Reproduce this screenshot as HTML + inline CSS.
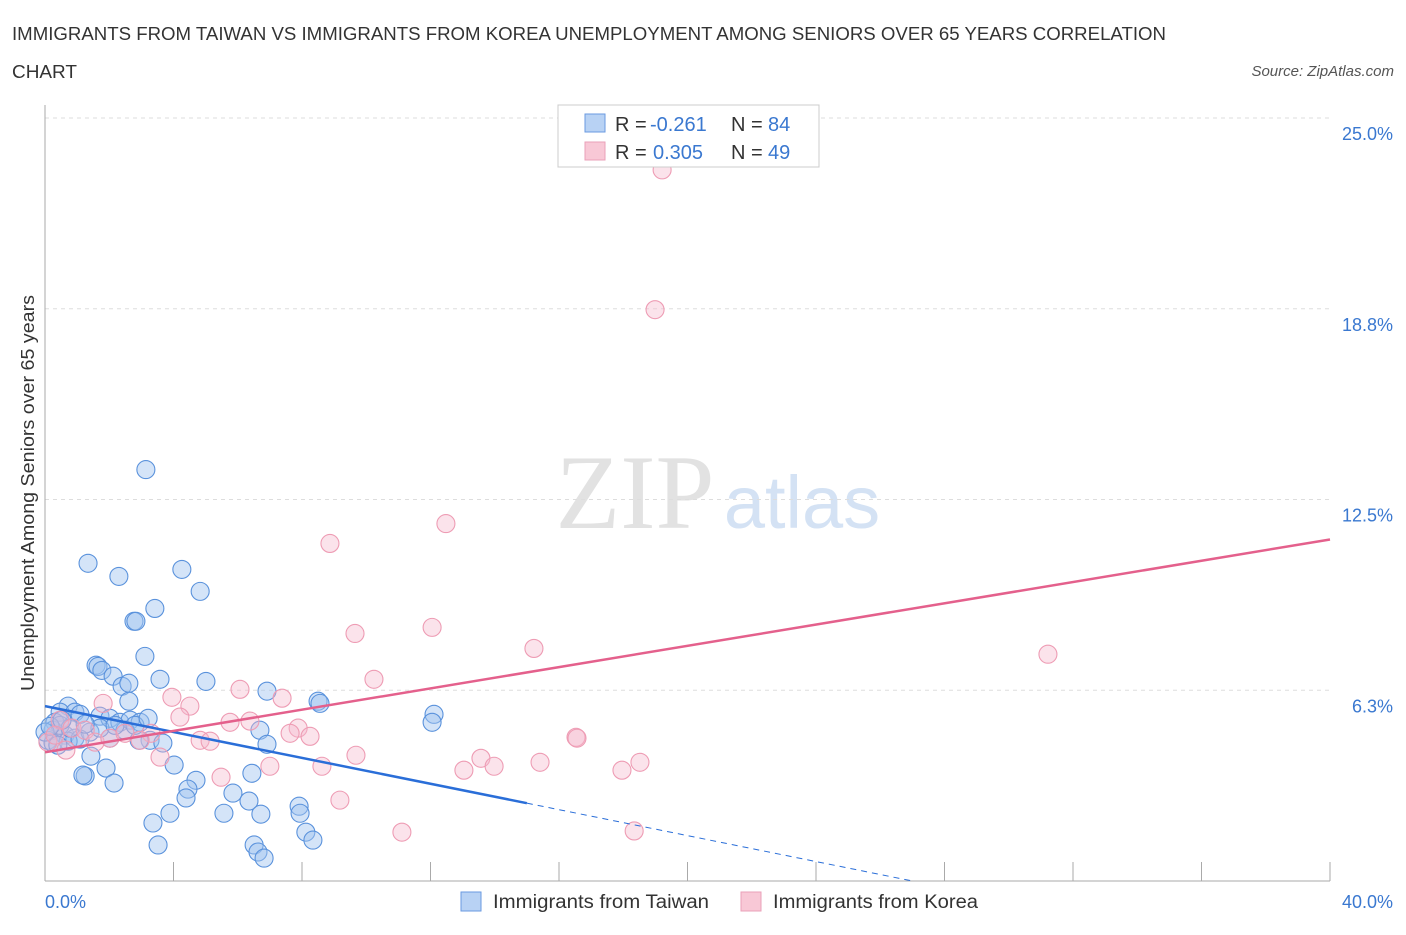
<!DOCTYPE html>
<html><head><meta charset="utf-8"><style>
body{margin:0;background:#fff;font-family:"Liberation Sans",sans-serif}
svg text{font-family:"Liberation Sans",sans-serif}
</style></head><body>
<svg id="c" width="1406" height="930">
<text x="12" y="40" font-size="18" fill="#333" textLength="1154" lengthAdjust="spacingAndGlyphs">IMMIGRANTS FROM TAIWAN VS IMMIGRANTS FROM KOREA UNEMPLOYMENT AMONG SENIORS OVER 65 YEARS CORRELATION</text>
<text x="12" y="78" font-size="18" fill="#333" textLength="65" lengthAdjust="spacingAndGlyphs">CHART</text>
<text x="1394" y="76" font-size="15" fill="#555" font-style="italic" text-anchor="end">Source: ZipAtlas.com</text>
<text x="635" y="528" font-size="106" fill="#e2e2e2" text-anchor="middle" style="font-family:'Liberation Serif',serif">ZIP</text>
<text x="802" y="528" font-size="74" fill="#d4e2f4" text-anchor="middle">atlas</text>
<g id="grid"></g><g id="pts"></g><g id="lines"></g>
<text transform="translate(34,493) rotate(-90)" font-size="18" fill="#333" text-anchor="middle" textLength="396" lengthAdjust="spacingAndGlyphs">Unemployment Among Seniors over 65 years</text>
<text x="45" y="908" font-size="18" fill="#3a78d0">0.0%</text>
<text x="1393" y="908" font-size="18" fill="#3a78d0" text-anchor="end">40.0%</text>
<g>
<rect x="558" y="105" width="261" height="62" fill="#fff" stroke="#ccc"/>
<rect x="585" y="114" width="20" height="18" fill="#b8d2f4" stroke="#6a9ae0"/>
<rect x="585" y="142" width="20" height="18" fill="#f8c8d6" stroke="#eaa0b8"/>
<text x="615" y="131" font-size="20" fill="#333">R =</text>
<text x="650" y="131" font-size="20" fill="#3a78d0">-0.261</text>
<text x="731" y="131" font-size="20" fill="#333">N =</text>
<text x="768" y="131" font-size="20" fill="#3a78d0">84</text>
<text x="615" y="159" font-size="20" fill="#333">R =</text>
<text x="653" y="159" font-size="20" fill="#3a78d0">0.305</text>
<text x="731" y="159" font-size="20" fill="#333">N =</text>
<text x="768" y="159" font-size="20" fill="#3a78d0">49</text>
</g>
<g>
<rect x="461" y="892" width="20" height="19" fill="#b8d2f4" stroke="#6a9ae0"/>
<text x="493" y="908" font-size="19" fill="#333" textLength="216" lengthAdjust="spacingAndGlyphs">Immigrants from Taiwan</text>
<rect x="741" y="892" width="20" height="19" fill="#f8c8d6" stroke="#eaa0b8"/>
<text x="773" y="908" font-size="19" fill="#333" textLength="205" lengthAdjust="spacingAndGlyphs">Immigrants from Korea</text>
</g>
</svg>
<script>
const yTicks=[25,18.75,12.5,6.25];
const yTickLabels=["25.0%","18.8%","12.5%","6.3%"];
const xTicks=[0,4,8,12,16,20,24,28,32,36,40];
const taiwanX=[3.14,1.34,2.30,4.26,3.42,4.83,2.77,2.83,3.11,1.59,1.65,1.77,2.12,2.40,2.61,3.58,5.01,6.91,2.61,0.72,0.47,0.93,1.09,0.31,1.71,2.02,2.33,2.65,2.96,0.25,0.62,0.93,1.40,2.02,2.49,3.27,3.67,2.93,0.09,0.25,0.72,1.09,6.69,6.91,8.50,8.56,12.11,12.05,1.43,1.90,1.25,1.18,2.15,4.02,4.70,4.45,4.39,5.85,6.44,6.35,6.72,7.91,7.94,5.57,3.89,3.36,3.52,8.12,8.34,6.51,6.63,6.82,0.47,0.78,0.40,1.71,2.18,2.80,3.21,0,0.16,0.53,1.25];
const taiwanY=[13.48,10.41,9.98,10.21,8.93,9.49,8.51,8.51,7.36,7.07,7.03,6.90,6.71,6.38,6.48,6.61,6.54,6.22,5.89,5.73,5.53,5.53,5.46,5.20,5.40,5.33,5.20,5.27,5.20,4.94,4.78,4.68,4.88,4.68,4.94,4.61,4.52,4.61,4.61,4.52,4.58,4.65,4.94,4.48,5.89,5.82,5.46,5.20,4.09,3.70,3.44,3.47,3.21,3.80,3.30,3.01,2.72,2.88,3.53,2.62,2.19,2.45,2.22,2.22,2.22,1.90,1.18,1.60,1.34,1.18,0.95,0.75,5.10,5.01,4.45,5.01,5.10,5.10,5.33,4.88,5.07,5.27,5.14];
const koreaX=[19.21,18.99,12.48,8.87,12.05,9.65,15.22,31.22,10.24,6.07,3.95,7.38,4.51,1.81,4.20,5.76,6.38,7.88,7.63,8.25,4.83,5.14,3.30,2.96,3.58,9.68,8.62,7.00,5.48,13.04,13.57,13.98,15.41,16.53,16.56,17.96,18.52,9.18,11.11,18.34,0.47,0.84,1.25,1.56,2.02,0.09,0.31,2.49,0.65];
const koreaY=[23.30,18.72,11.71,11.06,8.31,8.11,7.62,7.43,6.61,6.28,6.02,5.99,5.73,5.82,5.37,5.20,5.24,5.01,4.84,4.74,4.61,4.58,4.84,4.61,4.06,4.12,3.76,3.76,3.40,3.63,4.02,3.76,3.89,4.71,4.68,3.63,3.89,2.65,1.60,1.64,5.27,5.01,4.94,4.55,4.68,4.55,4.78,4.84,4.29];
const taiwanTrend=[[0,5.73],[15,2.55],[27.0,0]];
const koreaTrend=[[0,4.22],[40,11.19]];
const X0=45,X1=1330,Y0=881,YT=118;
const sx=v=>X0+(X1-X0)*v/40;
const sy=v=>Y0-(Y0-YT)*v/25;
const NS="http://www.w3.org/2000/svg";
function mk(t,a,p){const e=document.createElementNS(NS,t);for(const k in a)e.setAttribute(k,a[k]);p.appendChild(e);return e;}
const g=document.getElementById('grid');
yTicks.forEach((v,i)=>{
 const l=mk('line',{x1:X0,x2:X1,y1:sy(v),y2:sy(v),stroke:'#ddd','stroke-dasharray':'4,4'},g);
 
 
 const t=mk('text',{x:1393,y:sy(v)+22,'font-size':18,fill:'#3a78d0','text-anchor':'end'},g);
 t.textContent=yTickLabels[i];
 
 
});
const ax=mk('line',{x1:X0,x2:X0,y1:105,y2:Y0,stroke:'#aaa'},g);


const bx=mk('line',{x1:X0,x2:X1,y1:Y0,y2:Y0,stroke:'#aaa'},g);


xTicks.forEach(v=>{
 const l=mk('line',{x1:sx(v),x2:sx(v),y1:862,y2:Y0,stroke:'#aaa'},g);
 
 
});
const p=document.getElementById('pts');
taiwanX.forEach((v,i)=>{
 const c=mk('circle',{cx:sx(v),cy:sy(taiwanY[i]),r:9,fill:'rgba(160,196,240,0.45)',stroke:'#5a92dc','stroke-width':1.1},p);
 
 
});
koreaX.forEach((v,i)=>{
 const c=mk('circle',{cx:sx(v),cy:sy(koreaY[i]),r:9,fill:'rgba(246,184,204,0.4)',stroke:'#ee9cb4','stroke-width':1.1},p);
 
 
});
const L=document.getElementById('lines');
const t1=mk('line',{x1:sx(taiwanTrend[0][0]),y1:sy(taiwanTrend[0][1]),x2:sx(taiwanTrend[1][0]),y2:sy(taiwanTrend[1][1]),stroke:'#2a6ed8','stroke-width':2.5},L);


const t2=mk('line',{x1:sx(taiwanTrend[1][0]),y1:sy(taiwanTrend[1][1]),x2:sx(taiwanTrend[2][0]),y2:sy(taiwanTrend[2][1]),stroke:'#2a6ed8','stroke-width':1,'stroke-dasharray':'6,5'},L);


const t3=mk('line',{x1:sx(koreaTrend[0][0]),y1:sy(koreaTrend[0][1]),x2:sx(koreaTrend[1][0]),y2:sy(koreaTrend[1][1]),stroke:'#e4608c','stroke-width':2.5},L);


</script>
</body></html>
